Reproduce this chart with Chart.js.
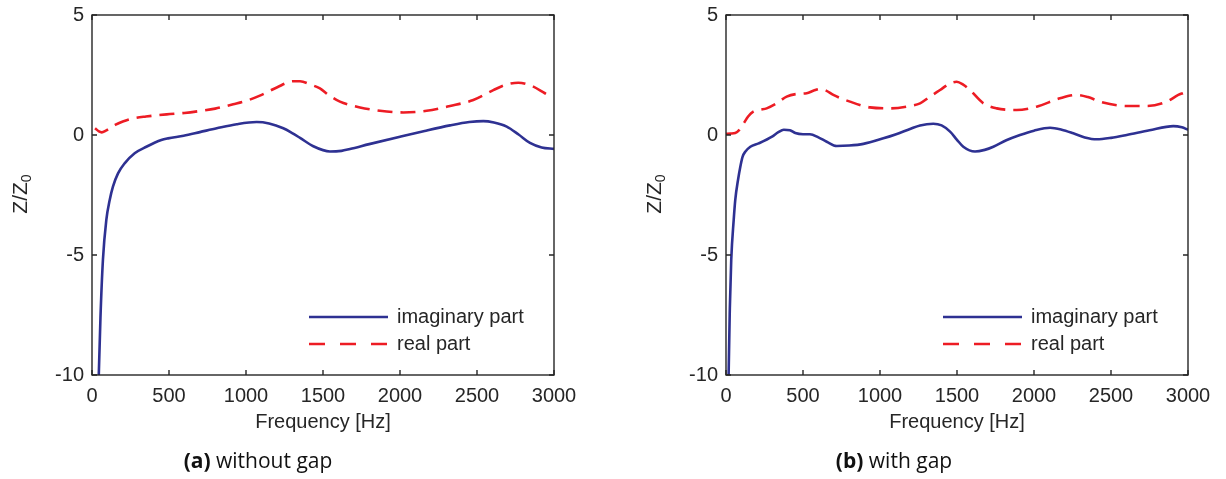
<!DOCTYPE html>
<html>
<head>
<meta charset="utf-8">
<script src="https://cdn.jsdelivr.net/npm/chart.js@4.4.0/dist/chart.umd.min.js"></script>
<style>
  html, body { margin:0; padding:0; background:#fff; }
  body { width:1226px; height:479px; position:relative; overflow:hidden; }
  canvas { position:absolute; top:0; }
  .ylab { position:absolute; width:60px; height:24px; line-height:24px; text-align:center;
          font:21px "Liberation Sans", Arial, sans-serif; color:#262626; transform:rotate(-90deg); white-space:nowrap; }
  .ylab sub { font-size:14px; vertical-align:-4px; line-height:0; }
  .cap { position:absolute; top:446px; height:28px; line-height:28px; text-align:center;
         font:21px "Open Sans", sans-serif; color:#111; white-space:nowrap; }
  .cap b { font-weight:700; }
</style>
</head>
<body>
<canvas id="cA" width="613" height="479" style="left:0px"></canvas>
<canvas id="cB" width="613" height="479" style="left:613px"></canvas>
<div class="ylab" style="left:-10px; top:182px;">Z/Z<sub>0</sub></div>
<div class="ylab" style="left:624px; top:182px;">Z/Z<sub>0</sub></div>
<div class="cap" style="left:158px; width:200px;"><b>(a)</b> without gap</div>
<div class="cap" style="left:794px; width:200px;"><b>(b)</b> with gap</div>
<script>
// ---- data ----
const xTicks = [0, 500, 1000, 1500, 2000, 2500, 3000];
const yTicks = [-10, -5, 0, 5];
const seriesLabels = ['imaginary part', 'real part'];
const xTitle = 'Frequency [Hz]';

// (a) without gap
const imagA_f = [30,44,55,71,93,115,136,169,212,277,353,450,494,595,700,810,940,1069,1150,1242,1300,1351,1437,1545,1620,1675,1800,2000,2160,2325,2450,2541,2610,2693,2770,2844,2920,3000];
const imagA_v = [-15,-10,-7.6,-5.2,-3.54,-2.71,-2.15,-1.6,-1.18,-0.76,-0.49,-0.21,-0.14,-0.03,0.12,0.28,0.45,0.54,0.48,0.28,0.08,-0.12,-0.47,-0.69,-0.66,-0.58,-0.38,-0.07,0.17,0.4,0.54,0.58,0.52,0.35,0.02,-0.33,-0.52,-0.58];
const realA_f = [20,45,63,90,120,150,200,267,350,485,600,700,800,917,1000,1090,1200,1307,1351,1420,1480,1540,1610,1740,1870,2022,2173,2325,2476,2606,2690,2768,2850,2941,2980];
const realA_v = [0.28,0.15,0.11,0.18,0.3,0.42,0.56,0.69,0.77,0.86,0.92,1.0,1.1,1.28,1.42,1.64,1.98,2.24,2.24,2.1,1.94,1.65,1.39,1.15,1.01,0.94,1.01,1.21,1.46,1.87,2.1,2.18,2.06,1.74,1.6];

// (b) with gap
const imagB_f = [8,17,25,34,50,60,78,93,108,125,158,212,299,340,375,415,450,500,545,600,654,719,800,892,1022,1100,1195,1260,1346,1400,1455,1500,1541,1617,1680,1736,1820,1909,2000,2104,2180,2255,2330,2407,2500,2602,2750,2905,2960,3000];
const imagB_v = [-16,-10,-7.2,-5.2,-3.54,-2.71,-1.875,-1.32,-0.9,-0.7,-0.49,-0.35,-0.07,0.12,0.22,0.2,0.08,0.03,0.03,-0.1,-0.28,-0.46,-0.44,-0.37,-0.14,0.02,0.25,0.4,0.47,0.4,0.14,-0.2,-0.49,-0.69,-0.62,-0.49,-0.22,0,0.18,0.3,0.22,0.07,-0.1,-0.18,-0.12,0,0.2,0.37,0.32,0.22];
const realB_f = [0,30,60,85,115,145,177,220,264,329,394,459,524,570,610,650,697,805,935,1065,1195,1260,1325,1390,1455,1498,1540,1584,1671,1758,1887,2017,2169,2277,2350,2429,2602,2732,2862,2937,2970];
const realB_v = [0.05,0.06,0.08,0.2,0.49,0.78,0.97,1.05,1.11,1.32,1.6,1.71,1.74,1.85,1.92,1.85,1.67,1.39,1.15,1.11,1.21,1.32,1.6,1.875,2.15,2.22,2.1,1.875,1.32,1.11,1.04,1.18,1.53,1.67,1.58,1.39,1.21,1.21,1.39,1.67,1.75];

// ---- styling / drawing ----
const FONT = '"Liberation Sans", Arial, sans-serif';
const TXT = '#262626';
const BLUE = '#2e3192';
const RED = '#ed1c24';

function pairs(f, v) { return f.map((x, i) => ({x, y: v[i]})); }

const frameTicks = {
  id: 'frameTicks',
  afterDraw(chart) {
    const {ctx, chartArea: a, scales: {x, y}} = chart;
    const L = 5;
    ctx.save();
    ctx.strokeStyle = TXT; ctx.lineWidth = 1.4;
    ctx.strokeRect(a.left, a.top, a.width, a.height);
    ctx.beginPath();
    x.ticks.forEach(t => {
      const px = x.getPixelForValue(t.value);
      ctx.moveTo(px, a.bottom); ctx.lineTo(px, a.bottom - L);
      ctx.moveTo(px, a.top); ctx.lineTo(px, a.top + L);
    });
    y.ticks.forEach(t => {
      const py = y.getPixelForValue(t.value);
      ctx.moveTo(a.left, py); ctx.lineTo(a.left + L, py);
      ctx.moveTo(a.right, py); ctx.lineTo(a.right - L, py);
    });
    ctx.stroke();
    // legend inside plot, bottom right
    const lx0 = a.left + 217, lx1 = a.left + 296, tx = a.left + 305;
    const rows = [a.bottom - 58, a.bottom - 31];
    chart.data.datasets.forEach((ds, i) => {
      const yy = rows[i];
      ctx.beginPath();
      ctx.strokeStyle = ds.borderColor; ctx.lineWidth = ds.borderWidth;
      ctx.setLineDash(ds.borderDash && ds.borderDash.length ? [16, 15] : []);
      ctx.moveTo(lx0, yy); ctx.lineTo(lx1, yy); ctx.stroke();
      ctx.setLineDash([]);
      ctx.fillStyle = TXT; ctx.font = '20px ' + FONT;
      ctx.textBaseline = 'middle'; ctx.textAlign = 'left';
      ctx.fillText(ds.label, tx, yy);
    });
    ctx.restore();
  }
};

function makeChart(id, imF, imV, reF, reV, padLeft, padRight) {
  return new Chart(document.getElementById(id), {
    type: 'line',
    data: {
      datasets: [
        { label: seriesLabels[0], data: pairs(imF, imV), borderColor: BLUE, borderWidth: 2.6,
          pointRadius: 0, cubicInterpolationMode: 'monotone', fill: false },
        { label: seriesLabels[1], data: pairs(reF, reV), borderColor: RED, borderWidth: 2.6,
          borderDash: [15, 8], pointRadius: 0, cubicInterpolationMode: 'monotone', fill: false }
      ]
    },
    options: {
      responsive: false, animation: false, devicePixelRatio: 1,
      layout: { padding: { left: padLeft, right: padRight, top: 15, bottom: 0 } },
      plugins: { legend: { display: false }, tooltip: { enabled: false } },
      scales: {
        x: {
          type: 'linear', min: 0, max: 3000,
          afterBuildTicks: s => { s.ticks = xTicks.map(v => ({value: v})); },
          afterFit: s => { s.height = 104; s.paddingLeft = 0; s.paddingRight = 0; },
          grid: { display: false, drawTicks: false }, border: { display: false },
          ticks: { padding: 9, maxRotation: 0, autoSkip: false, color: TXT, font: { family: FONT, size: 20 },
                   callback: v => String(v) },
          title: { display: true, text: xTitle, color: TXT, font: { family: FONT, size: 20 }, padding: { top: 0, bottom: 45 } }
        },
        y: {
          type: 'linear', min: -10, max: 5,
          afterBuildTicks: s => { s.ticks = yTicks.map(v => ({value: v})); },
          afterFit: s => { s.width = 92; s.paddingTop = 0; s.paddingBottom = 0; },
          grid: { display: false, drawTicks: false }, border: { display: false },
          ticks: { padding: 8, color: TXT, font: { family: FONT, size: 20 }, callback: v => String(v) }
        }
      }
    },
    plugins: [frameTicks]
  });
}

makeChart('cA', imagA_f, imagA_v, realA_f, realA_v, 0, 59);
makeChart('cB', imagB_f, imagB_v, realB_f, realB_v, 21, 38);
</script>
</body>
</html>
